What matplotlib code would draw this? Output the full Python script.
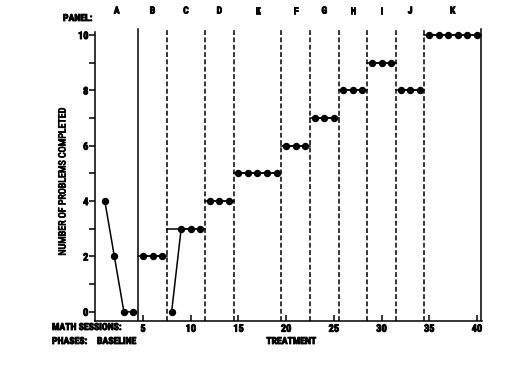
import numpy as np
import matplotlib
matplotlib.use("Agg")
import matplotlib.pyplot as plt
import matplotlib.patheffects as pe
from matplotlib.text import Text

plt.rcParams['font.family'] = ['Roboto Condensed', 'Liberation Sans', 'DejaVu Sans']
plt.rcParams['font.weight'] = 'bold'

# Data
panels = ["A", "B", "C", "D", "E", "F", "G", "H", "I", "J", "K"]
phase_edges = [0, 4.5, 7.5, 11.5, 14.5, 19.5, 22.5, 25.5, 28.5, 31.5, 34.5, 40.4]
criteria = [None, 2, 3, 4, 5, 6, 7, 8, 9, 8, 10]
sessions = np.arange(1, 41)
problems = [4, 2, 0, 0,
            2, 2, 2,
            0, 3, 3, 3,
            4, 4, 4,
            5, 5, 5, 5, 5,
            6, 6, 6,
            7, 7, 7,
            8, 8, 8,
            9, 9, 9,
            8, 8, 8,
            10, 10, 10, 10, 10, 10]
x_ticks = [5, 10, 15, 20, 25, 30, 35, 40]
y_ticks = [0, 2, 4, 6, 8, 10]

fig = plt.figure(figsize=(5.25, 3.66), dpi=100)
ax = fig.add_axes([0.1815, 0.123, 0.736, 0.804])

ax.set_xlim(0, 40.5)
ax.set_ylim(-0.33, 10.3)

top = 10.2
# phase lines
for i, edge in enumerate(phase_edges[1:], start=1):
    ls = '-' if i in (1, len(phase_edges) - 1) else (0, (3.2, 1.6))
    ax.plot([edge, edge], [-0.33, top], color='black', lw=1.1, ls=ls)

# criterion lines
for i, c in enumerate(criteria):
    if c is not None:
        ax.plot([phase_edges[i], phase_edges[i + 1]], [c, c], color='black', lw=1.1)

# data, joined only inside each phase
for i in range(len(panels)):
    lo, hi = phase_edges[i], phase_edges[i + 1]
    mask = (sessions > lo) & (sessions < hi)
    ax.plot(sessions[mask], np.array(problems)[mask], color='black', lw=1.1,
            marker='o', markersize=4.3)

for s in ['top', 'right']:
    ax.spines[s].set_visible(False)
ax.spines['left'].set_bounds(-0.33, 10.1)
ax.spines['left'].set_linewidth(1.1)
ax.spines['bottom'].set_linewidth(1.1)

ax.set_yticks(y_ticks)
ax.set_yticks([1, 3, 5, 7, 9], minor=True)
ax.set_xticks(x_ticks)
ax.tick_params(axis='y', which='both', direction='out', length=4, width=1.1,
               labelsize=7.5, pad=1)
ax.tick_params(axis='x', direction='in', length=4, width=1.1, labelsize=7.5, pad=2)

ax.set_ylabel("NUMBER OF PROBLEMS COMPLETED", fontsize=7.2)
ax.yaxis.set_label_coords(-0.072, 0.472)

# panel letters
trans = ax.get_xaxis_transform()
for i, p in enumerate(panels):
    xc = (phase_edges[i] + phase_edges[i + 1]) / 2
    ax.text(xc, 1.055, p, transform=trans, ha='center', va='center', fontsize=7)
fig.text(63 / 525, 1 - 18 / 366, "PANEL:", ha='left', va='center', fontsize=7)

fig.text(52 / 525, 1 - 327 / 366, "MATH SESSIONS:", ha='left', va='center', fontsize=7)
fig.text(52 / 525, 1 - 341 / 366, "PHASES:", ha='left', va='center', fontsize=7)
fig.text(97 / 525, 1 - 341 / 366, "BASELINE", ha='left', va='center', fontsize=7)
fig.text(291 / 525, 1 - 341 / 366, "TREATMENT", ha='center', va='center', fontsize=7)

# thicken the type a bit, the scan uses a heavy condensed face
for t in fig.findobj(Text):
    t.set_path_effects([pe.withStroke(linewidth=0.6, foreground='black')])

fig.savefig("out.png", dpi=100)
